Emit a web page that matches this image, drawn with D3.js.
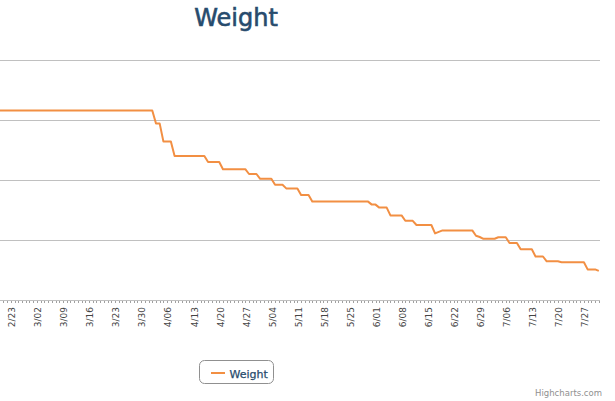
<!DOCTYPE html>
<html>
<head>
<meta charset="utf-8">
<script src="https://cdn.jsdelivr.net/npm/d3@7"></script>
<style>
  body { margin: 0; background: #fff; }
</style>
</head>
<body>
<script>
// Weight readings (lbs), only the days where the curve bends
var dates = ["2015-02-19","2015-04-01","2015-04-02","2015-04-03","2015-04-04","2015-04-06","2015-04-07",
  "2015-04-15","2015-04-16","2015-04-19","2015-04-20","2015-04-26","2015-04-27","2015-04-29","2015-04-30",
  "2015-05-03","2015-05-04","2015-05-06","2015-05-07","2015-05-10","2015-05-11","2015-05-13","2015-05-14",
  "2015-05-29","2015-05-30","2015-05-31","2015-06-01","2015-06-03","2015-06-04","2015-06-07","2015-06-08",
  "2015-06-10","2015-06-11","2015-06-15","2015-06-16","2015-06-17","2015-06-18","2015-06-26","2015-06-27",
  "2015-06-28","2015-06-29","2015-07-02","2015-07-03","2015-07-05","2015-07-06","2015-07-08","2015-07-09",
  "2015-07-12","2015-07-13","2015-07-15","2015-07-16","2015-07-19","2015-07-20","2015-07-26","2015-07-27",
  "2015-07-29","2015-07-30"];
var weights = [191.6,191.6,189.4,189.4,186.4,186.4,184.0,
  184.0,183.0,183.0,181.8,181.8,181.0,181.0,180.2,
  180.2,179.2,179.2,178.6,178.6,177.5,177.5,176.4,
  176.4,175.9,175.9,175.4,175.4,174.1,174.1,173.2,
  173.2,172.5,172.5,171.1,171.35,171.6,171.6,170.7,
  170.5,170.2,170.2,170.45,170.45,169.5,169.5,168.45,
  168.45,167.25,167.25,166.45,166.45,166.3,166.3,165.1,
  165.1,164.85];

// week ticks (labels) and y grid values
var tickDates = ["2015-02-23","2015-03-02","2015-03-09","2015-03-16","2015-03-23","2015-03-30",
  "2015-04-06","2015-04-13","2015-04-20","2015-04-27","2015-05-04","2015-05-11","2015-05-18",
  "2015-05-25","2015-06-01","2015-06-08","2015-06-15","2015-06-22","2015-06-29","2015-07-06",
  "2015-07-13","2015-07-20","2015-07-27"];
var gridValues = [160, 170, 180, 190, 200];

var seriesName = "Weight";
var lineColor = "#f28f43";
var parseDate = d3.utcParse("%Y-%m-%d");
var fmt = d3.utcFormat("%-m/%d");

var data = dates.map(function(d, i) { return {date: parseDate(d), valeur: weights[i]}; });

var svg = d3.select("body").append("svg")
            .attr("width", 615)
            .attr("height", 401)
            .style("font-family", "'Lucida Grande', 'DejaVu Sans', sans-serif");

// the plot area starts left of the visible window (y labels are cut off)
var x = d3.scaleUtc()
          .domain(d3.extent(data, d => d.date))
          .range([-0.3, 598.8]);
var y = d3.scaleLinear()
          .domain([160, 200])
          .range([300, 60]);

// grid
svg.append("g").selectAll("line")
   .data(gridValues)
   .join("line")
   .attr("x1", 0).attr("x2", 600)
   .attr("y1", d => Math.round(y(d)) + 0.5)
   .attr("y2", d => Math.round(y(d)) + 0.5)
   .attr("stroke", "#c0c0c0");

// x axis: daily minor ticks, week labels
var days = d3.utcDay.range(parseDate("2015-02-20"), parseDate("2015-07-31"));
svg.append("g").selectAll("line")
   .data(days)
   .join("line")
   .attr("x1", d => Math.round(x(d)) + 0.5)
   .attr("x2", d => Math.round(x(d)) + 0.5)
   .attr("y1", 300).attr("y2", 303)
   .attr("stroke", "#a0a0a0");

svg.append("line")
   .attr("x1", 0).attr("x2", 600)
   .attr("y1", 300.5).attr("y2", 300.5)
   .attr("stroke", "#c0c0c0");

svg.append("g").selectAll("text")
   .data(tickDates.map(parseDate))
   .join("text")
   .attr("transform", d => "translate(" + (x(d) + 0.6) + ",307) rotate(-90)")
   .attr("text-anchor", "end")
   .style("font-size", "9px")
   .style("fill", "#444")
   .text(d => fmt(d));

// line
var valueLine = d3.line()
                  .x(d => x(d.date))
                  .y(d => y(d.valeur));

svg.append("path")
   .attr("d", valueLine(data))
   .attr("fill", "none")
   .attr("stroke", lineColor)
   .attr("stroke-width", 2)
   .attr("stroke-linejoin", "round");

// title
svg.append("text")
   .attr("x", 236).attr("y", 26)
   .attr("text-anchor", "middle")
   .style("font-size", "24px")
   .style("fill", "#274b6d")
   .style("stroke", "#274b6d")
   .style("stroke-width", "0.6px")
   .text(seriesName);

// legend
var legend = svg.append("g");
legend.append("rect")
      .attr("x", 199.5).attr("y", 360.5)
      .attr("width", 74).attr("height", 23)
      .attr("rx", 5)
      .attr("fill", "none")
      .attr("stroke", "#909090");
legend.append("line")
      .attr("x1", 211).attr("x2", 225)
      .attr("y1", 373).attr("y2", 373)
      .attr("stroke", lineColor)
      .attr("stroke-width", 2);
legend.append("text")
      .attr("x", 229.5).attr("y", 377.5)
      .style("font-size", "11px")
      .style("fill", "#274b6d")
      .style("stroke", "#274b6d")
      .style("stroke-width", "0.25px")
      .text(seriesName);

// credits
svg.append("text")
   .attr("x", 602).attr("y", 396)
   .attr("text-anchor", "end")
   .style("font-size", "8.5px")
   .style("fill", "#909090")
   .text("Highcharts.com");
</script>
</body>
</html>
